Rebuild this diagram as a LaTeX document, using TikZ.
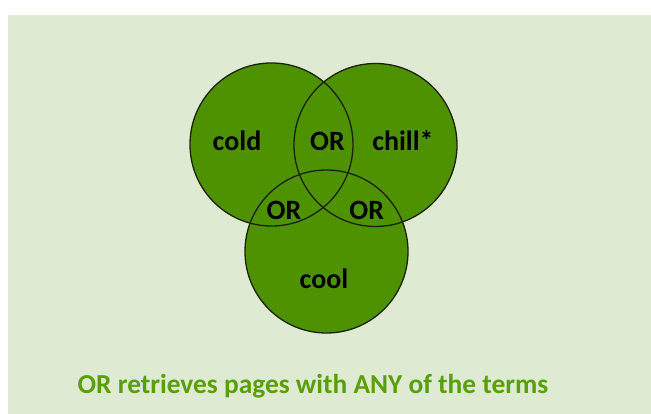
\documentclass[tikz,border=0pt]{standalone}
\usepackage{fontspec}
\setmainfont{Carlito}
\definecolor{bgc}{HTML}{DEEAD2}
\definecolor{vfill}{HTML}{4F9200}
\definecolor{vline}{HTML}{1A2200}
\definecolor{capc}{HTML}{5A9E08}
\begin{document}
\begin{tikzpicture}[x=1pt,y=-1pt,
  venn/.style={circle,minimum size=163pt,inner sep=0pt},
  lbl/.style={anchor=base,font=\fontsize{28}{33}\selectfont\bfseries,text=black,inner sep=0pt},
  caption/.style={anchor=base,font=\fontsize{27.4}{32}\selectfont\bfseries,text=capc,inner sep=0pt}]
\useasboundingbox (0,0) rectangle (651,414);
\fill[white] (0,0) rectangle (651,414);
\fill[bgc] (8,15) rectangle (651,414);
\node[venn,fill=vfill] (A) at (271.5,144.5) {};
\node[venn,fill=vfill] (B) at (375.5,145) {};
\node[venn,fill=vfill] (C) at (326.5,251.5) {};
\draw[vline,line width=1.3pt] (A.center) circle[radius=81.5];
\draw[vline,line width=1.3pt] (B.center) circle[radius=81.5];
\draw[vline,line width=1.3pt] (C.center) circle[radius=81.5];
\node[lbl] (cold) at (237,151) {cold};
\node[lbl] (or1) at (327.5,151) {OR};
\node[lbl] (chill) at (403,151) {chill*};
\node[lbl] (or2) at (284,219.5) {OR};
\node[lbl] (or3) at (366.7,219.5) {OR};
\node[lbl] (cool) at (324,288.5) {cool};
\node[caption] (cap) at (313,393) {OR retrieves pages with ANY of the terms};
\end{tikzpicture}
\end{document}
